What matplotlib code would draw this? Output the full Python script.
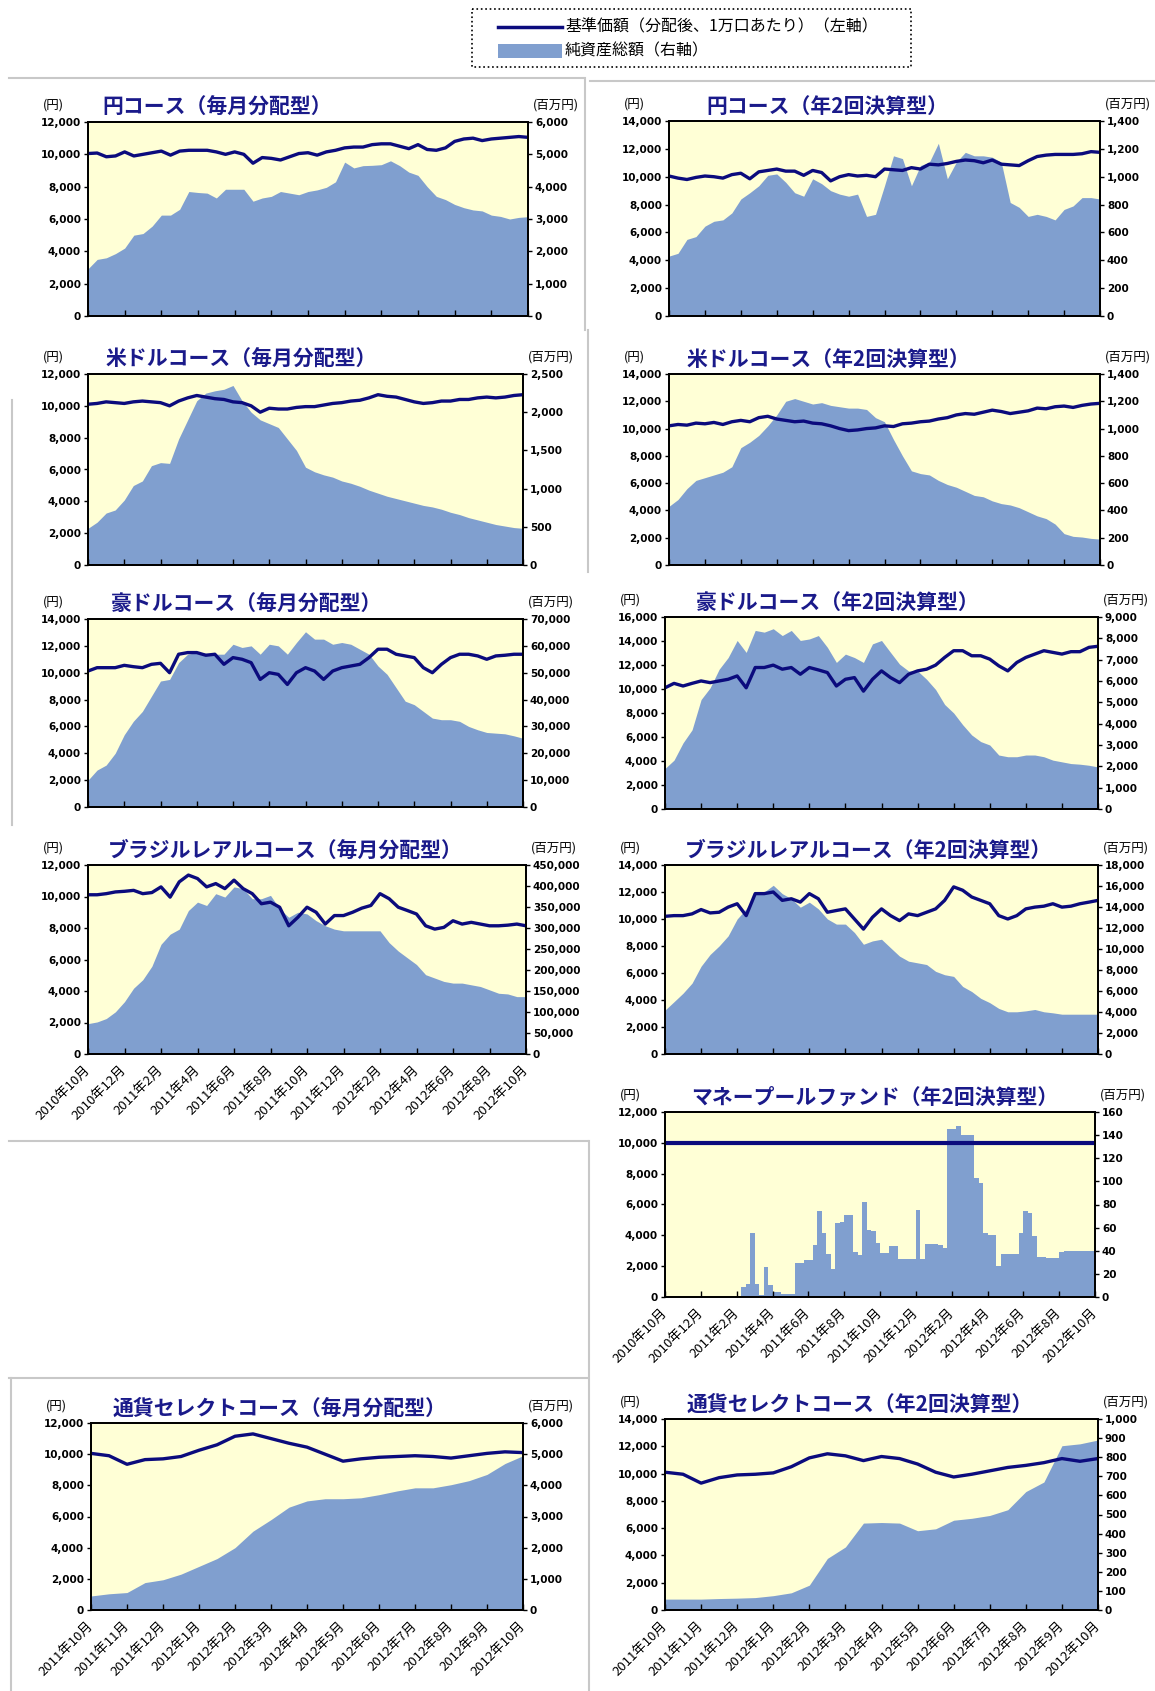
import numpy as np
import matplotlib
matplotlib.use("Agg")
import matplotlib.pyplot as plt
from matplotlib.patches import Rectangle

plt.rcParams['font.family'] = ['Noto Sans CJK JP', 'DejaVu Sans']

W, H = 1155, 1691
NAVY = "#0b0b7d"
AREA = "#809fcf"
BG = "#ffffd6"
TITLE_C = "#1a1a8a"
GREY = "#c8c8c8"

# ── tick labels ──────────────────────────────────────────────────────────────
months_2y = ["2010年10月", "2010年12月", "2011年2月", "2011年4月", "2011年6月",
             "2011年8月", "2011年10月", "2011年12月", "2012年2月", "2012年4月",
             "2012年6月", "2012年8月", "2012年10月"]
months_1y = ["2011年10月", "2011年11月", "2011年12月", "2012年1月", "2012年2月",
             "2012年3月", "2012年4月", "2012年5月", "2012年6月", "2012年7月",
             "2012年8月", "2012年9月", "2012年10月"]

# ── data (NAV in yen, net assets in million yen) ─────────────────────────────
yen_m_nav = [10050, 10080, 9850, 9900, 10150, 9900, 10000, 10100, 10200, 9950, 10200, 10250,
             10250, 10250, 10150, 10000, 10150, 10000, 9450, 9800, 9750, 9650, 9850, 10050,
             10100, 9950, 10150, 10250, 10400, 10450, 10450, 10600, 10650, 10650, 10500, 10350,
             10600, 10300, 10250, 10400, 10800, 10950, 11000, 10850, 10950, 11000, 11050, 11100, 11050]
yen_m_aum = [1460, 1750, 1800, 1930, 2100, 2500, 2550, 2780, 3120, 3120, 3300, 3850,
             3820, 3800, 3650, 3920, 3920, 3920, 3550, 3650, 3700, 3850, 3800, 3750,
             3850, 3900, 3980, 4150, 4760, 4580, 4650, 4660, 4680, 4800, 4650, 4450,
             4350, 4000, 3700, 3600, 3450, 3350, 3280, 3250, 3120, 3080, 3000, 3050, 3070]

yen_s_nav = [10050, 9900, 9800, 9950, 10050, 10000, 9900, 10150, 10250, 9850, 10350, 10450,
             10550, 10400, 10400, 10100, 10450, 10300, 9700, 10000, 10150, 10050, 10100, 10000,
             10550, 10500, 10450, 10650, 10550, 10900, 10850, 10950, 11100, 11200, 11150, 11000,
             11200, 10900, 10850, 10800, 11150, 11450, 11550, 11600, 11600, 11600, 11650, 11800, 11750]
yen_s_aum = [430, 450, 550, 570, 645, 680, 690, 740, 840, 885, 935, 1010,
             1020, 960, 885, 860, 985, 950, 900, 875, 860, 875, 715, 730,
             935, 1150, 1130, 935, 1080, 1105, 1240, 985, 1105, 1175, 1150, 1150,
             1140, 1105, 815, 780, 715, 730, 715, 690, 765, 790, 850, 850, 840]

usd_m_nav = [10100, 10150, 10250, 10200, 10150, 10250, 10300, 10250, 10200, 10000, 10300, 10500,
             10650, 10550, 10450, 10400, 10250, 10200, 10000, 9600, 9850, 9800, 9800, 9900,
             9950, 9950, 10050, 10150, 10200, 10300, 10350, 10500, 10700, 10600, 10550, 10400,
             10250, 10150, 10200, 10300, 10300, 10400, 10400, 10500, 10550, 10500, 10550, 10650, 10700]
usd_m_aum = [480, 560, 680, 720, 850, 1040, 1100, 1300, 1340, 1330, 1650, 1900,
             2150, 2250, 2280, 2300, 2350, 2150, 2000, 1900, 1850, 1800, 1650, 1500,
             1280, 1220, 1180, 1150, 1100, 1070, 1030, 980, 940, 900, 870, 840,
             810, 780, 760, 730, 690, 660, 620, 590, 560, 530, 510, 490, 480]

usd_s_nav = [10200, 10300, 10250, 10400, 10350, 10450, 10300, 10500, 10600, 10500, 10800, 10900,
             10700, 10600, 10500, 10550, 10400, 10350, 10200, 10000, 9850, 9900, 10000, 10050,
             10200, 10150, 10350, 10400, 10500, 10550, 10700, 10800, 11000, 11100, 11050, 11200,
             11350, 11250, 11100, 11200, 11300, 11500, 11450, 11600, 11650, 11550, 11700, 11800, 11850]
usd_s_aum = [430, 480, 560, 620, 640, 660, 680, 720, 860, 900, 950, 1020,
             1100, 1200, 1220, 1200, 1180, 1190, 1170, 1160, 1150, 1150, 1140, 1080,
             1050, 920, 800, 690, 670, 660, 620, 590, 570, 540, 510, 500,
             470, 450, 440, 420, 390, 360, 340, 300, 230, 210, 205, 195, 190]

aud_m_nav = [10125, 10375, 10375, 10375, 10550, 10450, 10375, 10625, 10700, 10000, 11375, 11500,
             11500, 11300, 11375, 10625, 11125, 11000, 10750, 9500, 10000, 9875, 9125, 10000,
             10375, 10125, 9500, 10125, 10375, 10500, 10625, 11125, 11750, 11750, 11375, 11250,
             11125, 10375, 10000, 10625, 11125, 11375, 11375, 11250, 11000, 11250, 11300, 11375, 11375]
aud_m_aum = [10000, 13750, 15600, 20000, 26900, 31900, 35600, 41250, 46900, 47500, 53750, 56900,
             57500, 57250, 56900, 56900, 60600, 59400, 60000, 56900, 60600, 60000, 56900, 61250,
             65250, 62500, 62500, 60600, 61250, 60600, 58750, 56900, 52500, 49400, 44400, 39400,
             38100, 35600, 33100, 32500, 32500, 31900, 30000, 28750, 27750, 27500, 27250, 26500, 25600]

aud_s_nav = [10100, 10470, 10250, 10470, 10670, 10530, 10670, 10810, 11090, 10100, 11790, 11790,
             11990, 11650, 11790, 11230, 11790, 11590, 11370, 10250, 10810, 10950, 9820, 10810,
             11510, 10950, 10530, 11230, 11510, 11650, 11990, 12630, 13190, 13190, 12770, 12770,
             12490, 11930, 11510, 12210, 12630, 12910, 13190, 13050, 12910, 13110, 13110, 13470, 13560]
aud_s_aum = [1900, 2290, 3100, 3710, 5130, 5680, 6550, 7100, 7900, 7340, 8370, 8290,
             8450, 8130, 8370, 7900, 7970, 8130, 7580, 6870, 7260, 7100, 6870, 7740,
             7900, 7340, 6790, 6470, 6470, 6080, 5600, 4900, 4500, 3950, 3470, 3160,
             3000, 2530, 2450, 2450, 2530, 2530, 2450, 2290, 2210, 2130, 2100, 2050, 1970]

brl_m_nav = [10110, 10110, 10180, 10290, 10330, 10390, 10180, 10250, 10610, 9960, 10930, 11360,
             11140, 10610, 10820, 10500, 11040, 10500, 10180, 9540, 9640, 9320, 8140, 8680,
             9320, 9000, 8250, 8790, 8790, 9000, 9260, 9430, 10180, 9860, 9320, 9110,
             8890, 8140, 7930, 8040, 8460, 8250, 8360, 8250, 8140, 8140, 8180, 8250, 8140]
brl_m_aum = [72300, 76300, 84400, 100400, 124600, 156700, 176800, 208900, 261200, 285300, 297300, 341500,
             361600, 353600, 381700, 373700, 397800, 393800, 369700, 369700, 377700, 345500, 325500, 337500,
             333500, 317400, 305400, 297300, 293300, 293300, 293300, 293300, 293300, 265200, 245100, 229000,
             213000, 188800, 180800, 172800, 168800, 168800, 164700, 160700, 152700, 144600, 143000, 136600, 136600]

brl_s_nav = [10200, 10250, 10250, 10380, 10700, 10450, 10500, 10880, 11130, 10250, 11880, 11880,
             12000, 11380, 11500, 11250, 11880, 11500, 10500, 10630, 10750, 10000, 9250, 10130,
             10750, 10250, 9880, 10380, 10250, 10500, 10750, 11380, 12380, 12130, 11630, 11380,
             11130, 10250, 10000, 10250, 10750, 10880, 10950, 11130, 10880, 10950, 11130, 11250, 11380]
brl_s_aum = [4180, 4980, 5790, 6750, 8360, 9480, 10290, 11250, 12860, 13820, 15270, 15430,
             16070, 15270, 14790, 13980, 14460, 13820, 12860, 12370, 12370, 11570, 10450, 10770,
             10930, 10120, 9320, 8840, 8680, 8520, 7870, 7550, 7390, 6430, 5950, 5300,
             4890, 4340, 4020, 4020, 4110, 4240, 4020, 3920, 3790, 3790, 3790, 3790, 3790]

mp_nav = [10000, 10000]
mp_aum = [0, 0, 0, 0, 0, 0, 0, 0, 0, 0, 0, 0, 0, 0, 0, 0, 0,
          8.6, 11.5, 55, 11.5, 1.5, 26, 10, 4.5, 4.5, 2.5, 2.5, 2.5, 29, 29, 32, 32,
          45, 74, 55, 37, 24, 64, 65, 71, 71, 39, 36, 82, 58, 57, 47, 38, 38, 44, 44,
          33, 33, 33, 33, 75, 33, 46, 46, 46, 45, 42, 145, 145, 148, 140, 140, 140,
          103, 99, 55, 54, 54, 27, 37, 37, 37, 37, 55, 74, 73, 53, 35, 34.5, 34, 34, 34,
          39, 39.5, 39.5, 39.5, 39.5, 39.5, 40, 40, 40]

sel_m_nav = [10050, 9900, 9350, 9650, 9700, 9850, 10250, 10600, 11150, 11300, 11000, 10700,
             10450, 10000, 9550, 9700, 9800, 9850, 9900, 9850, 9750, 9900, 10050, 10150, 10100]
sel_m_aum = [450, 520, 560, 880, 970, 1150, 1400, 1650, 2000, 2530, 2900, 3300,
             3500, 3570, 3570, 3600, 3700, 3820, 3920, 3920, 4020, 4150, 4350, 4700, 4950]

sel_s_nav = [10100, 9950, 9300, 9700, 9900, 9950, 10050, 10500, 11150, 11450, 11300, 10950,
             11250, 11100, 10700, 10100, 9750, 9950, 10200, 10450, 10600, 10800, 11100, 10900, 11100]
sel_s_aum = [57, 57, 57, 60, 62, 65, 75, 90, 130, 270, 330, 455,
             458, 455, 415, 425, 470, 480, 495, 525, 620, 670, 860, 870, 890]


def frac(x0, y0, x1, y1):
    return [x0 / W, 1 - y1 / H, (x1 - x0) / W, (y1 - y0) / H]


def money(v):
    return f"{int(v):,}"


def panel(fig, box, title, tx, nav, aum, lmax, rmax, rstep, span, tstep,
          labels=None, steps=False, lw=2.4):
    x0, y0, x1, y1 = box
    ax = fig.add_axes(frac(*box))
    ax.set_facecolor(BG)
    xa = np.linspace(0, span, len(aum))
    ax.fill_between(xa, 0, aum, color=AREA, lw=0, step="post" if steps else None)
    ax.set_xlim(0, span)
    ax.set_ylim(0, rmax)

    ln = ax.twinx()
    ln.plot(np.linspace(0, span, len(nav)), nav, color=NAVY, lw=lw)
    ln.set_ylim(0, lmax)
    ax.yaxis.tick_right()
    ln.yaxis.tick_left()

    tfont = dict(fontsize=7.5, fontweight="bold", family="DejaVu Sans")
    rt = np.arange(0, rmax + 1, rstep)
    ax.set_yticks(rt)
    ax.set_yticklabels([money(v) for v in rt], **tfont)
    lt = np.arange(0, lmax + 1, 2000)
    ln.set_yticks(lt)
    ln.set_yticklabels([money(v) for v in lt], **tfont)
    for a in (ax, ln):
        a.tick_params(axis="y", direction="out", length=3, width=1, pad=2)
        for s in a.spines.values():
            s.set_linewidth(1.3)
            s.set_color("black")

    ax.set_xticks(np.arange(0, span + 1, tstep))
    ax.tick_params(axis="x", direction="in", length=4, width=1)
    if labels:
        ax.set_xticklabels(labels, rotation=45, ha="right", va="center",
                           rotation_mode="anchor", fontsize=9.5)
        ax.tick_params(axis="x", pad=10)
    else:
        ax.set_xticklabels([])

    fig.text(tx / W, 1 - (y0 - 15) / H, title, color=TITLE_C, fontsize=15,
             fontweight="bold", va="center", ha="left")
    fig.text((x0 - 35) / W, 1 - (y0 - 17) / H, "(円)", fontsize=9, va="center", ha="center")
    fig.text((x1 + 28) / W, 1 - (y0 - 17) / H, "(百万円)", fontsize=9, va="center", ha="center")


fig = plt.figure(figsize=(W / 100, H / 100), dpi=100)

panel(fig, (88, 122, 528, 316), "円コース（毎月分配型）", 102,
      yen_m_nav, yen_m_aum, 12000, 6000, 1000, 24, 2)
panel(fig, (669, 121, 1100, 316), "円コース（年2回決算型）", 706,
      yen_s_nav, yen_s_aum, 14000, 1400, 200, 24, 2)
panel(fig, (88, 374, 523, 565), "米ドルコース（毎月分配型）", 106,
      usd_m_nav, usd_m_aum, 12000, 2500, 500, 24, 2)
panel(fig, (669, 374, 1100, 565), "米ドルコース（年2回決算型）", 687,
      usd_s_nav, usd_s_aum, 14000, 1400, 200, 24, 2)
panel(fig, (88, 619, 523, 807), "豪ドルコース（毎月分配型）", 111,
      aud_m_nav, aud_m_aum, 14000, 70000, 10000, 24, 2)
panel(fig, (665, 617, 1098, 809), "豪ドルコース（年2回決算型）", 696,
      aud_s_nav, aud_s_aum, 16000, 9000, 1000, 24, 2)
panel(fig, (88, 865, 526, 1054), "ブラジルレアルコース（毎月分配型）", 108,
      brl_m_nav, brl_m_aum, 12000, 450000, 50000, 24, 2, labels=months_2y)
panel(fig, (665, 865, 1098, 1054), "ブラジルレアルコース（年2回決算型）", 685,
      brl_s_nav, brl_s_aum, 14000, 18000, 2000, 24, 2)
panel(fig, (665, 1112, 1095, 1297), "マネープールファンド（年2回決算型）", 691,
      mp_nav, mp_aum, 12000, 160, 20, 24, 2, labels=months_2y, steps=True, lw=3)
panel(fig, (91, 1423, 523, 1610), "通貨セレクトコース（毎月分配型）", 113,
      sel_m_nav, sel_m_aum, 12000, 6000, 1000, 12, 1, labels=months_1y)
panel(fig, (665, 1419, 1098, 1610), "通貨セレクトコース（年2回決算型）", 687,
      sel_s_nav, sel_s_aum, 14000, 1000, 100, 12, 1, labels=months_1y)

# ── overlay: legend box and page separators ──────────────────────────────────
ov = fig.add_axes([0, 0, 1, 1])
ov.set_xlim(0, W)
ov.set_ylim(H, 0)
ov.axis("off")

ov.add_patch(Rectangle((472, 9), 439, 58, facecolor="white", edgecolor="black",
                       lw=1.2, ls=":"))
ov.plot([498, 562], [27, 27], color=NAVY, lw=2.5)
ov.add_patch(Rectangle((498, 44), 64, 14, facecolor=AREA, edgecolor="none"))
ov.text(565, 27, "基準価額（分配後、1万口あたり）（左軸）", fontsize=11.5, va="center")
ov.text(565, 51, "純資産総額（右軸）", fontsize=11.5, va="center")

for xs, ys in [((9, 583), (78, 78)), ((590, 1155), (81, 81)),
               ((585, 585), (78, 330)), ((12, 12), (400, 825)),
               ((588, 588), (330, 572)), ((9, 588), (1141, 1141)),
               ((589, 589), (1141, 1691)), ((9, 588), (1378, 1378)),
               ((11, 11), (1378, 1691))]:
    ov.plot(xs, ys, color=GREY, lw=1.5)

fig.savefig("out.png", dpi=100)
